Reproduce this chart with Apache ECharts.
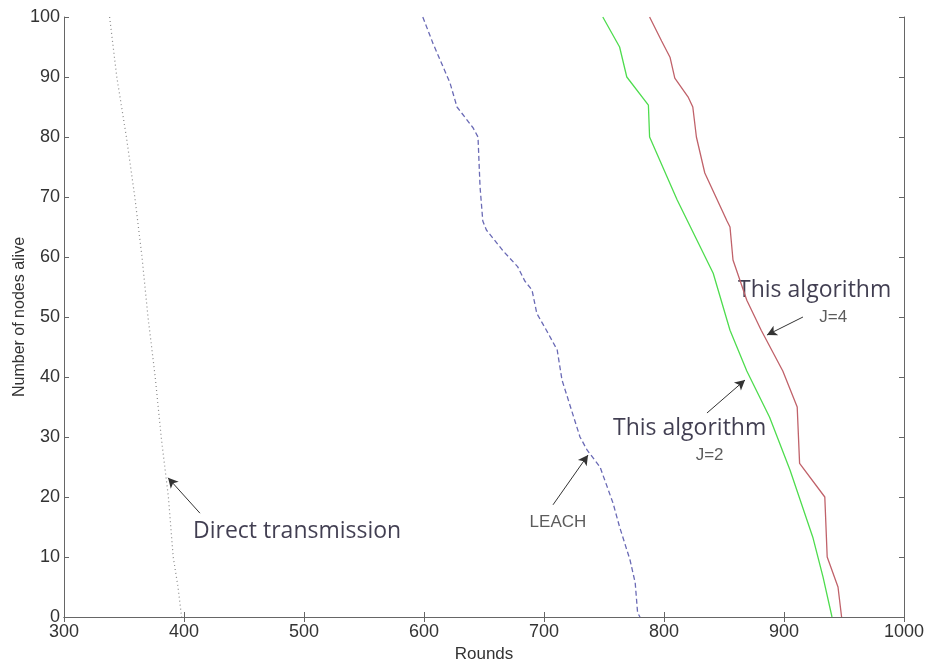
<!DOCTYPE html>
<html>
<head>
<meta charset="utf-8">
<script src="https://cdn.jsdelivr.net/npm/echarts@6/dist/echarts.min.js"></script>
<style>
  html, body { margin: 0; padding: 0; background: #fff; }
  #main { width: 925px; height: 662px; }
</style>
</head>
<body>
<div id="main"></div>
<script>
// rounds (x) and nodes alive (y) for each curve
var directX = [338, 344, 352, 359, 365, 370, 376, 381, 387, 391, 395, 398];
var directY = [100, 90, 80, 70, 60, 50, 40, 30, 20, 10, 5, 0];

var leachX = [599, 607.5, 621.7, 627.5, 641, 645, 646.7, 649, 652, 666, 678, 684, 690, 694, 702, 711, 715, 730, 736, 746.7, 757.5, 763, 771.7, 776, 778, 780];
var leachY = [100, 95.6, 89, 85, 81.5, 80, 71.7, 66, 64.5, 61, 58.4, 56, 54.5, 50.6, 47.8, 44.5, 39.5, 30, 27.8, 25, 19, 15, 9.5, 5.7, 0.7, 0];

var j2X = [749, 763, 769, 787, 788, 811, 841, 855, 869, 888, 905, 924, 932.5, 940];
var j2Y = [100, 95, 90, 85.3, 80, 69.5, 57.3, 47.8, 41, 33.3, 24.5, 13.3, 6.7, 0];

var j4X = [788, 798, 805, 809, 820, 824, 827, 834, 852.5, 855, 857.5, 869, 881, 899, 911, 913, 934, 936, 945, 948];
var j4Y = [100, 96, 93.3, 89.8, 86.7, 85, 80, 74, 66, 65, 59.5, 52.8, 47.8, 41, 35, 25.6, 20, 10, 5, 0];

// annotation texts and arrows (data coordinates)
var noteText = ['Direct transmission', 'LEACH', 'This algorithm', 'J=2', 'This algorithm', 'J=4'];
var noteX = [407.5, 688, 757.5, 838, 861.7, 941];
var noteY = [14.2, 15.7, 31.5, 27, 54.5, 50];
var noteBig = [true, false, true, false, true, false];

var arrowFrom = [[413.3, 17.3], [707.5, 18.7], [835.8, 34], [915.8, 50]];
var arrowTo = [[386.7, 23.2], [736.7, 27], [867.5, 39.5], [885.8, 47]];

function zip(xs, ys) {
    return xs.map(function (x, i) { return [x, ys[i]]; });
}

var chart = echarts.init(document.getElementById('main'));

var axisLine = { show: true, lineStyle: { color: '#666', width: 1 } };
var axisTick = { show: true, inside: true, length: 5, lineStyle: { color: '#666' } };
var tickFont = { fontFamily: 'Liberation Sans', fontSize: 18, color: '#333' };
var plain = function (v) { return String(v); };

var notes = noteText.map(function (t, i) {
    var big = noteBig[i];
    return {
        value: [noteX[i], noteY[i]],
        label: {
            show: true,
            formatter: t,
            position: 'inside',
            align: big ? 'left' : 'center',
            verticalAlign: 'middle',
            fontFamily: big ? 'Open Sans' : 'Liberation Sans',
            fontSize: big ? 23 : 17,
            color: big ? '#120e26' : '#333'
        }
    };
});
notes[1].label.align = 'left';

var option = {
    animation: false,
    backgroundColor: '#fff',
    grid: { left: 64, right: 21, top: 17, bottom: 45, containLabel: false, outerBoundsMode: 'none' },
    xAxis: [
        {
            type: 'value', min: 300, max: 1000, interval: 100,
            name: 'Rounds', nameLocation: 'middle', nameGap: 27,
            nameTextStyle: { fontFamily: 'Liberation Sans', fontSize: 17, color: '#333' },
            axisLine: axisLine, axisTick: axisTick, splitLine: { show: false },
            axisLabel: Object.assign({ margin: 6, formatter: plain }, tickFont)
        },
        {
            type: 'value', position: 'top', min: 300, max: 1000, interval: 100,
            axisLine: axisLine, axisTick: axisTick, splitLine: { show: false },
            axisLabel: { show: false }
        }
    ],
    yAxis: [
        {
            type: 'value', min: 0, max: 100, interval: 10,
            name: 'Number of nodes alive', nameLocation: 'middle', nameGap: 36,
            nameMoveOverlap: false,
            nameTextStyle: { fontFamily: 'Liberation Sans', fontSize: 16, color: '#333' },
            axisLine: axisLine, axisTick: axisTick, splitLine: { show: false },
            axisLabel: Object.assign({ margin: 4, formatter: plain }, tickFont)
        },
        {
            type: 'value', position: 'right', min: 0, max: 100, interval: 10,
            axisLine: axisLine, axisTick: axisTick, splitLine: { show: false },
            axisLabel: { show: false }
        }
    ],
    series: [
        {
            name: 'Direct transmission', type: 'line', symbol: 'none',
            data: zip(directX, directY),
            lineStyle: { color: '#8a8a8a', width: 1.2, type: [1, 3] }
        },
        {
            name: 'LEACH', type: 'line', symbol: 'none',
            data: zip(leachX, leachY),
            lineStyle: { color: '#6a6ab5', width: 1.3, type: [5, 3] }
        },
        {
            name: 'This algorithm J=2', type: 'line', symbol: 'none',
            data: zip(j2X, j2Y),
            lineStyle: { color: '#4edc4e', width: 1.3 }
        },
        {
            name: 'This algorithm J=4', type: 'line', symbol: 'none',
            data: zip(j4X, j4Y),
            lineStyle: { color: '#c0626a', width: 1.3 }
        },
        {
            name: 'notes', type: 'scatter', symbolSize: 0, silent: true,
            data: notes,
            markLine: {
                silent: true,
                symbol: ['none', 'arrow'],
                symbolSize: [8, 10],
                label: { show: false },
                lineStyle: { color: '#333', width: 1, type: 'solid' },
                data: arrowFrom.map(function (p, i) {
                    return [{ coord: p }, { coord: arrowTo[i] }];
                })
            }
        }
    ]
};

chart.setOption(option);
</script>
</body>
</html>
